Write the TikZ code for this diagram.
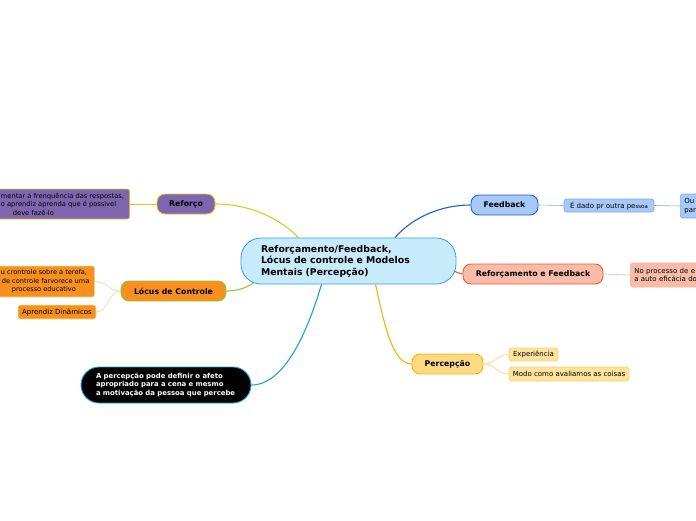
\documentclass[tikz,border=0pt]{standalone}
\usepackage{fontspec}
\setmainfont{DejaVu Sans}
\usetikzlibrary{backgrounds,calc}

\newcommand\centralfont{\fontsize{9.3}{11.5}\selectfont\bfseries}
\newcommand\branchfont{\fontsize{7.8}{9}\selectfont\bfseries}
\newcommand\leaffont{\fontsize{7}{8.4}\selectfont}
\newcommand\edgefont{\fontsize{6.7}{8.4}\selectfont}
\newcommand\afetofont{\fontsize{6.9}{8.7}\selectfont\bfseries}

\definecolor{centralfill}{HTML}{C7EBFB}
\definecolor{centralline}{HTML}{3A9BE0}
\definecolor{reforcofill}{HTML}{7D66AF}
\definecolor{reforcoline}{HTML}{DCCB1E}
\definecolor{locusfill}{HTML}{F7901E}
\definecolor{locusline}{HTML}{8DC63F}
\definecolor{locusleaf}{HTML}{D3E59C}
\definecolor{afetoline}{HTML}{1BA1E2}
\definecolor{feedfill}{HTML}{A6C9F7}
\definecolor{feedline}{HTML}{1C5FD0}
\definecolor{feedleaf}{HTML}{7FAAF0}
\definecolor{reffeedfill}{HTML}{F9BCA9}
\definecolor{reffeedline}{HTML}{F05A28}
\definecolor{reffeedleaf}{HTML}{F8AE98}
\definecolor{percfill}{HTML}{FDD983}
\definecolor{percline}{HTML}{F5B400}
\definecolor{percleaf}{HTML}{FDE39C}
\definecolor{percleafline}{HTML}{F8D278}

\tikzset{every picture/.style={line width=0.75pt}}

\begin{document}
\begin{tikzpicture}[x=1pt,y=1pt,yscale=-1,xscale=1,
	central/.style={draw=centralline, fill=centralfill, rounded corners=20, line width=0.8pt, inner xsep=20, inner ysep=0, text width=175, align=left, minimum height=46, font=\centralfont},
	branch/.style={draw, rounded corners=8, line width=0.9pt, inner sep=0, minimum height=20, font=\branchfont},
	leaf/.style={draw, rounded corners=2.5, line width=0.6pt, inner sep=0, font=\leaffont},
	note/.style={leaf, align=left, inner xsep=4},
	notetext/.style={align=left, inner sep=0, anchor=west},
	joint/.style={line width=1.1pt},
	twig/.style={line width=0.6pt}]
		\useasboundingbox (0,0) rectangle (696,520);
		
		%central topic
		\node[central] (main) at (348.5,261) {Reforçamento/Feedback,\\Lócus de controle e Modelos\\Mentais (Percepção)};
		
		%left side
		\node[branch, fill=reforcofill, draw=reforcoline, minimum width=58] (reforco) at (186,204) {Reforço};
		\node[leaf, fill=reforcofill, draw=reforcoline, anchor=east, minimum width=160, minimum height=30] (reforcoNote) at (130,204) {};
		\node[notetext, font=\edgefont] (reforcoText) at (0.5,204) {mentar a frenquência das respostas,\\o aprendiz aprenda que é possivel\\\hspace*{12pt}deve fazê-lo};
		
		\node[branch, fill=locusfill, draw=locusline, minimum width=105] (locus) at (173.5,291) {Lócus de Controle};
		\node[leaf, fill=locusfill, draw=locusleaf, anchor=east, minimum width=130, minimum height=31] (locusNoteA) at (95,281.5) {};
		\node[notetext, font=\fontsize{6.6}{8.4}\selectfont] (locusText) at (0.5,281.5) {u crontrole sobre a terefa,\\\hspace*{1pt}de controle farvorece uma\\\hspace*{11pt}processo educativo};
		\node[leaf, fill=locusfill, draw=locusleaf, minimum width=78, minimum height=14] (locusNoteB) at (57,312) {Aprendiz Dinâmicos};
		
		\node[draw=afetoline, fill=black, text=white, rounded corners=18, line width=0.9pt, inner xsep=15, inner ysep=0, text width=140, align=left, minimum height=36, font=\afetofont] (afeto) at (166,385) {A percepção pode definir o afeto\\apropriado para a cena e mesmo\\a motivação da pessoa que percebe};
		
		%right side
		\node[branch, fill=feedfill, draw=feedline, minimum width=67] (feedback) at (504.5,205) {Feedback};
		\node[leaf, fill=feedfill, draw=feedleaf, minimum width=90, minimum height=13] (feedbackNoteA) at (609,205.5) {É dado pr outra pe{\fontsize{5.5}{6}\selectfont ssoa}};
		\node[note, fill=feedfill, draw=feedleaf, anchor=west, text width=40, minimum height=24] (feedbackNoteB) at (680,206) {Ou\\par};
		
		\node[branch, fill=reffeedfill, draw=reffeedline, minimum width=140] (reffeed) at (533,274) {Reforçamento e Feedback};
		\node[note, fill=reffeedfill, draw=reffeedleaf, anchor=west, text width=90, minimum height=24] (reffeedNote) at (630,275) {No processo de e\\a auto eficácia do};
		
		\node[branch, fill=percfill, draw=percline, minimum width=71] (percepcao) at (447.5,364) {Percepção};
		\node[leaf, fill=percleaf, draw=percleafline, minimum width=49, minimum height=13] (percExp) at (533.5,354.5) {Experiência};
		\node[leaf, fill=percleaf, draw=percleafline, minimum width=120, minimum height=14] (percModo) at (569,374) {Modo como avaliamos as coisas};
		
		%connectors
		\begin{scope}[on background layer]
		\draw[joint, reforcoline] (reforco.east) .. controls (255,204) and (285,223) .. (main.155);
		\draw[joint, locusline] (locus.east) .. controls (242,291) and (252,285) .. ($(main.south west)+(21,-8)$);
		\draw[joint, afetoline] (afeto.east) .. controls (285,385) and (308,330) .. ($(main.south)+(-27,0)$);
		\draw[joint, feedline] (feedback.west) .. controls (440,205) and (412,218) .. ($(main.north)+(46.5,0)$);
		\draw[joint, reffeedline] (reffeed.west) .. controls (459,274) and (457,272) .. ($(main.east)+(-4,9)$);
		\draw[joint, percline] (percepcao.west) .. controls (392,364) and (384,322) .. ($(main.south)+(27,0)$);
		
		\draw[twig, reforcoline] (reforco.west) -- (reforcoNote.east);
		\draw[twig, locusleaf] (locus.west) .. controls (108,291) and (108,281.5) .. (locusNoteA.east);
		\draw[twig, locusleaf] (locus.west) .. controls (108,291) and (109,312) .. (locusNoteB.east);
		\draw[twig, feedleaf] (feedback.east) -- (feedbackNoteA.west);
		\draw[twig, feedleaf] (feedbackNoteA.east) -- (feedbackNoteB.west);
		\draw[twig, reffeedleaf] (reffeed.east) -- (reffeedNote.west);
		\draw[twig, percleafline] (percepcao.east) .. controls (496,364) and (496,354.5) .. (percExp.west);
		\draw[twig, percleafline] (percepcao.east) .. controls (496,364) and (496,374) .. (percModo.west);
		\end{scope}
		
	\end{tikzpicture}
\end{document}
